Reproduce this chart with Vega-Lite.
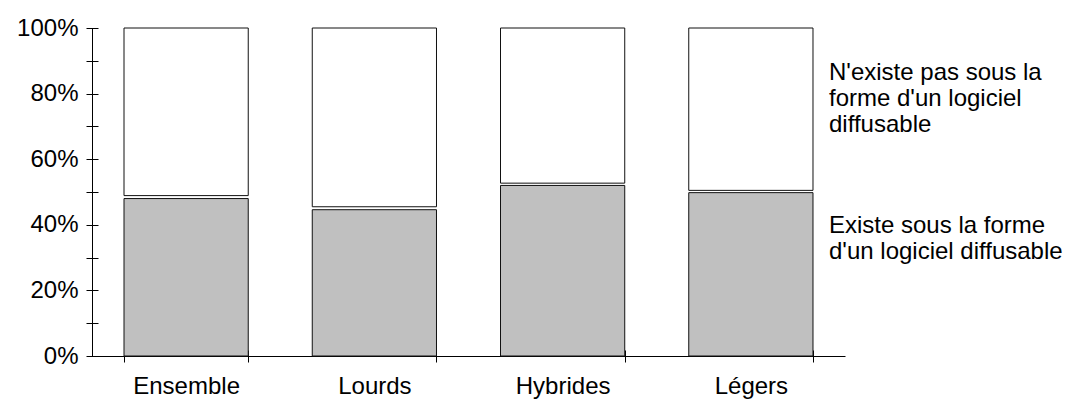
{
  "$schema": "https://vega.github.io/schema/vega-lite/v6.json",
  "width": 753,
  "height": 328,
  "autosize": "none",
  "padding": {"left": 92, "top": 28, "right": 234, "bottom": 49},
  "background": "white",
  "config": {
    "font": "Liberation Sans",
    "view": {"stroke": null},
    "axis": {"grid": false, "domainColor": "#000", "tickColor": "#000", "labelColor": "#000", "labelFont": "Liberation Sans", "labelFontSize": 24, "title": null}
  },
  "data": {
    "values": [
      {"cat": "Ensemble", "serie": "Existe sous la forme d'un logiciel diffusable", "debut": 0, "fin": 48.0},
      {"cat": "Ensemble", "serie": "N'existe pas sous la forme d'un logiciel diffusable", "debut": 48.9, "fin": 100},
      {"cat": "Lourds", "serie": "Existe sous la forme d'un logiciel diffusable", "debut": 0, "fin": 44.6},
      {"cat": "Lourds", "serie": "N'existe pas sous la forme d'un logiciel diffusable", "debut": 45.5, "fin": 100},
      {"cat": "Hybrides", "serie": "Existe sous la forme d'un logiciel diffusable", "debut": 0, "fin": 52.0},
      {"cat": "Hybrides", "serie": "N'existe pas sous la forme d'un logiciel diffusable", "debut": 52.7, "fin": 100},
      {"cat": "Légers", "serie": "Existe sous la forme d'un logiciel diffusable", "debut": 0, "fin": 49.8},
      {"cat": "Légers", "serie": "N'existe pas sous la forme d'un logiciel diffusable", "debut": 50.5, "fin": 100}
    ]
  },
  "resolve": {"axis": {"x": "independent", "y": "independent"}},
  "layer": [
    {
      "transform": [{"filter": {"field": "serie", "equal": "Existe sous la forme d'un logiciel diffusable"}}],
      "mark": {"type": "bar", "stroke": "#111", "strokeWidth": 1},
      "encoding": {
        "x": {"field": "cat", "type": "nominal", "sort": ["Ensemble", "Lourds", "Hybrides", "Légers"],
          "scale": {"paddingInner": 0.34, "paddingOuter": 0.17},
          "axis": {"tickBand": "extent", "tickSize": 12, "offset": -6, "domain": false, "labelAngle": 0, "labelPadding": 12, "title": null}},
        "y": {"field": "debut", "type": "quantitative", "scale": {"domain": [0, 100]},
          "axis": {"values": [0, 10, 20, 30, 40, 50, 60, 70, 80, 90, 100], "labelExpr": "datum.value % 20 == 0 ? datum.value + '%' : ''", "tickSize": 12, "offset": -6, "domain": false, "labelPadding": 8, "title": null}},
        "y2": {"field": "fin"},
        "fill": {"field": "serie", "type": "nominal",
          "scale": {"domain": ["N'existe pas sous la forme d'un logiciel diffusable", "Existe sous la forme d'un logiciel diffusable"], "range": ["#ffffff", "#c0c0c0"]},
          "legend": {"orient": "none", "legendX": 713, "legendY": 33, "title": null, "symbolSize": 0, "symbolOpacity": 0, "symbolStrokeWidth": 0, "labelFontSize": 24, "labelFont": "Liberation Sans", "labelColor": "#000", "labelLimit": 400, "labelOffset": 0, "rowPadding": 77, "padding": 0,
            "labelExpr": "substring(datum.label, 0, 1) == 'N' ? [\"N'existe pas sous la\", \"forme d'un logiciel\", \"diffusable\"] : [\"Existe sous la forme\", \"d'un logiciel diffusable\"]"}}
      }
    },
    {
      "transform": [{"filter": {"field": "serie", "equal": "N'existe pas sous la forme d'un logiciel diffusable"}}],
      "mark": {"type": "bar", "stroke": "#111", "strokeWidth": 1},
      "encoding": {
        "x": {"field": "cat", "type": "nominal", "sort": ["Ensemble", "Lourds", "Hybrides", "Légers"],
          "axis": {"orient": "bottom", "domain": true, "ticks": false, "labels": false, "title": null}},
        "y": {"field": "debut", "type": "quantitative",
          "axis": {"orient": "left", "domain": true, "ticks": false, "labels": false, "title": null}},
        "y2": {"field": "fin"},
        "fill": {"field": "serie", "type": "nominal"}
      }
    }
  ]
}
